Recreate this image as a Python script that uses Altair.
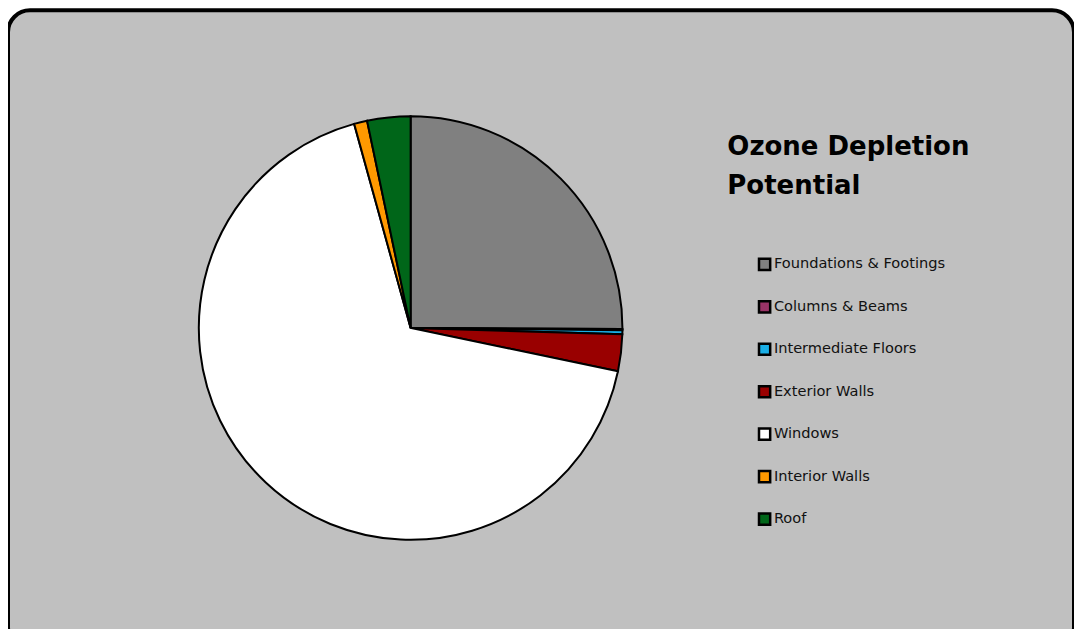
import altair as alt
import pandas as pd

categories = ["Foundations & Footings", "Columns & Beams", "Intermediate Floors",
              "Exterior Walls", "Windows", "Interior Walls", "Roof"]
values = [25.1, 0.1, 0.3, 2.8, 67.5, 1.0, 3.3]
colors = ["#808080", "#993366", "#1AAEE5", "#990000", "#FFFFFF", "#FF9900", "#006619"]
title_lines = ["Ozone Depletion", "Potential"]

df = pd.DataFrame({"part": categories, "value": values, "order": list(range(len(categories)))})

FONT = "DejaVu Sans"

pie = alt.Chart(df).mark_arc(
    outerRadius=212, stroke="black", strokeWidth=2
).encode(
    theta=alt.Theta("value:Q", stack=True),
    order=alt.Order("order:Q"),
    color=alt.Color(
        "part:N",
        scale=alt.Scale(domain=categories, range=colors),
        sort=categories,
        legend=alt.Legend(
            title=title_lines,
            orient="none",
            legendX=720,
            legendY=124,
            titleFont=FONT,
            titleFontSize=26,
            titleFontWeight="bold",
            titleColor="black",
            titleLimit=500,
            titleLineHeight=39,
            titlePadding=58,
            symbolType="square",
            symbolSize=125,
            symbolStrokeColor="black",
            symbolStrokeWidth=2.5,
            symbolOpacity=1,
            symbolOffset=30,
            labelFont=FONT,
            labelFontSize=14.6,
            labelColor="#111111",
            labelOffset=2,
            labelLimit=400,
            rowPadding=20.5,
        ),
    ),
    x=alt.value(403),
    y=alt.value(318),
)

chart = pie.properties(
    width=1067,
    height=640,
    padding={"left": 0, "top": 2, "right": 0, "bottom": 0},
    background="white",
).configure_view(
    fill="#C0C0C0",
    stroke="black",
    strokeWidth=4,
    cornerRadius=22,
)

chart.save("out.html", embed_options={"renderer": "svg", "actions": False})
